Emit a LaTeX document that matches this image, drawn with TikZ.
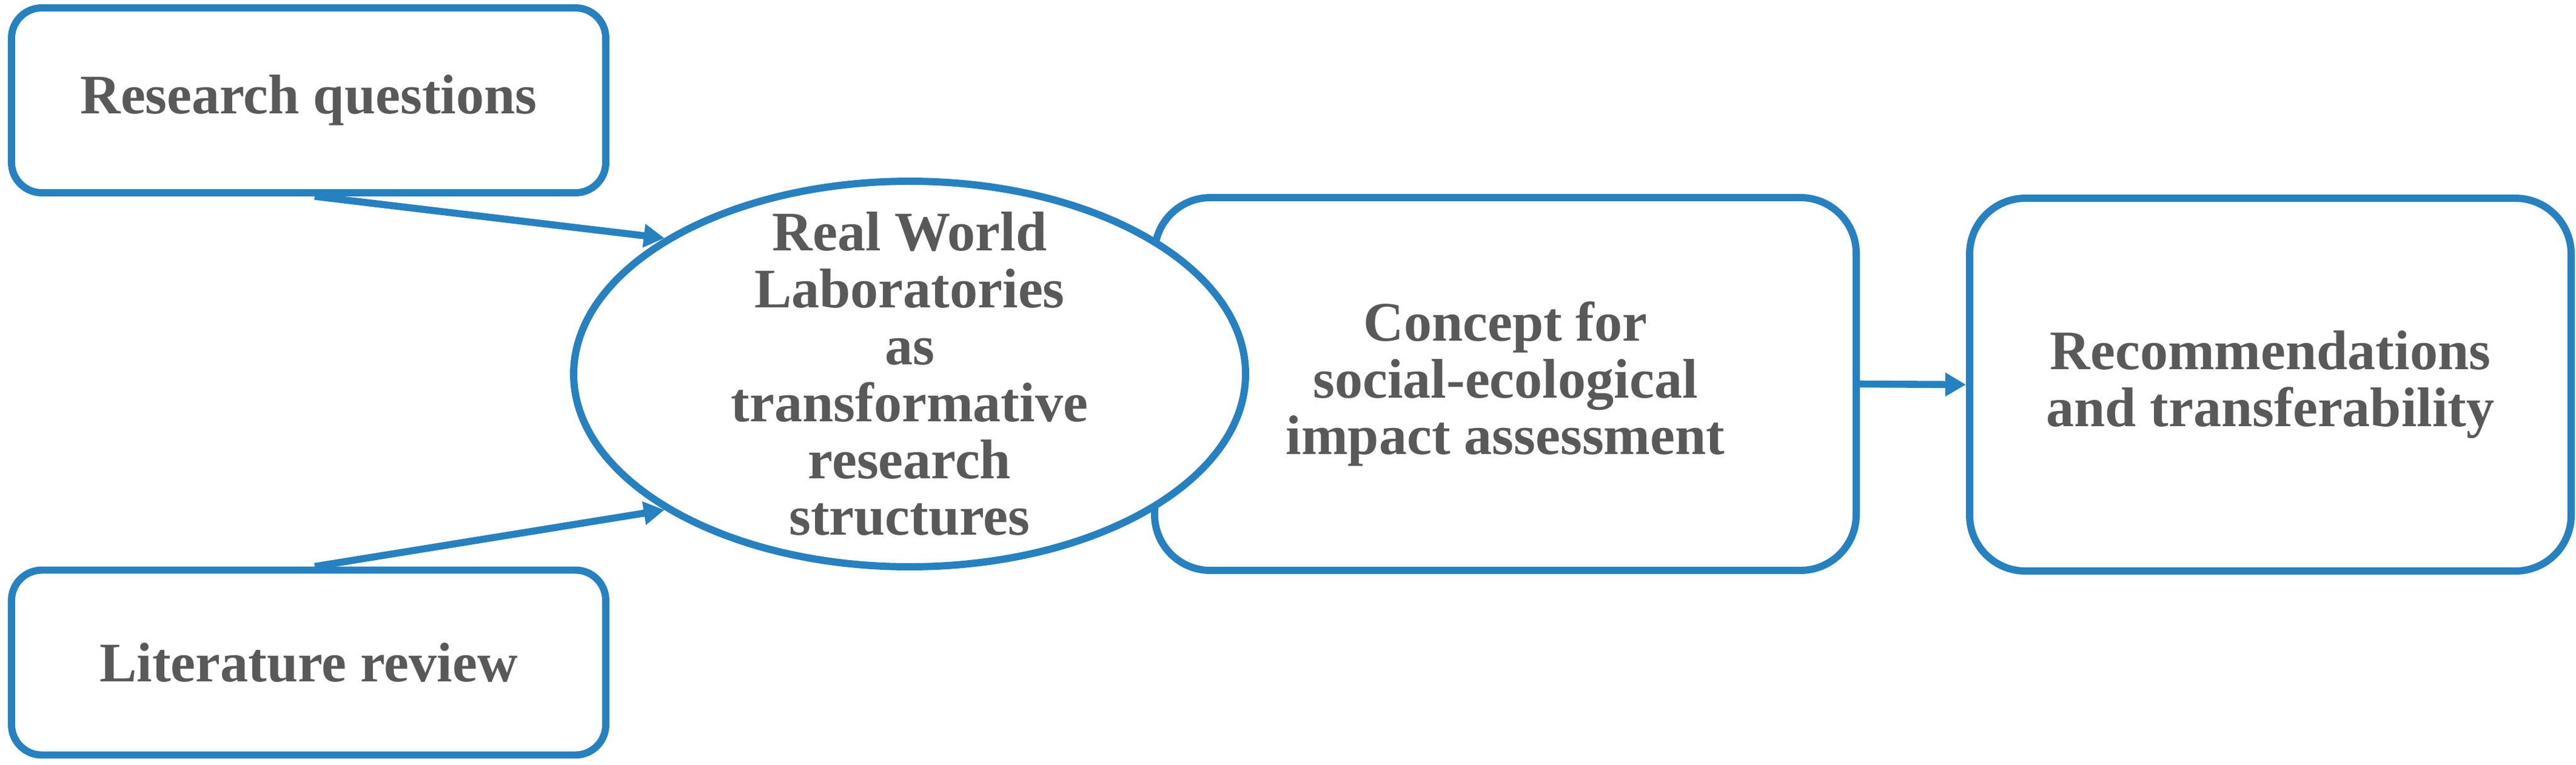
\documentclass[tikz,border=0pt]{standalone}
\usepackage{fontspec}
\setmainfont{Liberation Serif}
\usetikzlibrary{shapes.geometric,arrows.meta}
\definecolor{bl}{RGB}{38,129,193}
\definecolor{tx}{RGB}{89,89,89}
\begin{document}
\begin{tikzpicture}[
  lbl/.style={text=tx, align=center, inner sep=0pt,
    font=\fontsize{26.2pt}{26.7pt}\selectfont\bfseries},
  smallbox/.style={lbl, draw=bl, line width=3.4pt, fill=white,
    rounded corners=0.5cm, minimum width=9.8cm, minimum height=3.05cm},
  bigbox/.style={lbl, draw=bl, line width=3.4pt, fill=white,
    rounded corners=0.92cm, minimum height=6.15cm},
  oval/.style={draw=bl, line width=3.4pt, fill=white, ellipse, inner sep=0pt,
    minimum width=11.08cm, minimum height=6.36cm},
  conn/.style={draw=bl, line width=3.3pt, -{Triangle[length=0.34cm,width=0.37cm]}}
]
\useasboundingbox (0,0) rectangle (42.48,-12.61);

\node[smallbox] (rq) at (5.09,-1.655) {Research questions};
\node[smallbox] (lr) at (5.09,-10.93) {Literature review};
\node[bigbox, minimum width=11.57cm] (con) at (24.825,-6.335)
  {Concept for\\social-ecological\\impact assessment};
\node[bigbox, minimum width=9.92cm] (rec) at (37.44,-6.345)
  {Recommendations\\and transferability};

\node[oval] (ell) at (15.00,-6.17) {};
\node[lbl] (elltxt) at (ell.center)
  {Real World\\Laboratories\\as\\transformative\\research\\structures};

\draw[conn] ([xshift=1mm]rq.south) -- (ell.151);
\draw[conn] ([xshift=1mm]lr.north) -- (ell.209);
\draw[conn] (con.east) -- (rec.west);
\end{tikzpicture}
\end{document}
